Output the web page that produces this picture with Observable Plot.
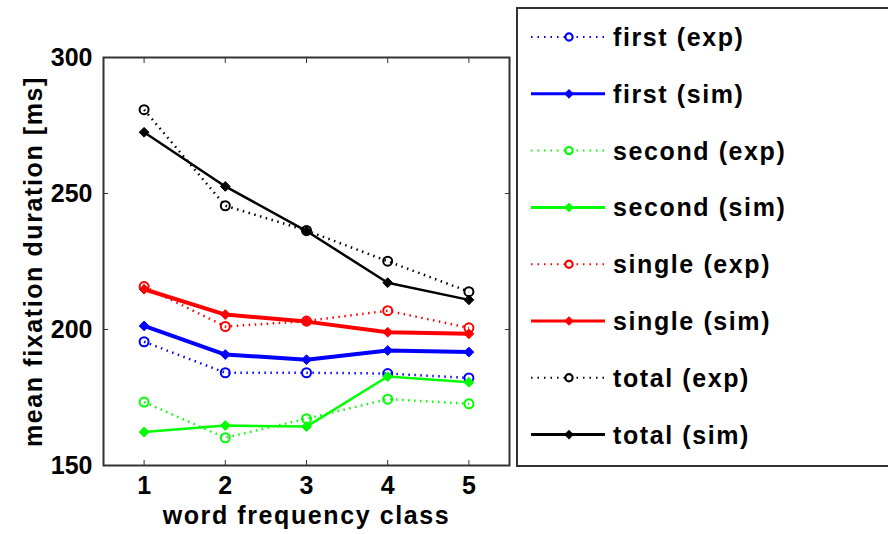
<!DOCTYPE html>
<html>
<head>
<meta charset="utf-8">
<script src="https://cdn.jsdelivr.net/npm/d3@7"></script>
<script src="https://cdn.jsdelivr.net/npm/@observablehq/plot@0.6"></script>
<style>
  html, body { margin: 0; padding: 0; background: #fff; overflow: hidden; }
  #wrap { position: relative; width: 888px; height: 534px; overflow: hidden; }
  #chart svg { display: block; }
  #legend { position: absolute; left: 0; top: 0; }
</style>
</head>
<body>
<div id="wrap">
  <div id="chart"></div>
  <svg id="legend" width="888" height="534"></svg>
</div>
<script>
// word frequency classes on the x axis
const classes = [1, 2, 3, 4, 5];
const yTicks = [150, 200, 250, 300];

// mean fixation durations [ms], experiment vs. simulation
const firstExp  = [195.5, 184.1, 184.1, 183.8, 182.2];
const firstSim  = [201.3, 190.8, 188.9, 192.3, 191.7];
const secondExp = [173.3, 160.2, 167.2, 174.4, 172.7];
const secondSim = [162.3, 164.7, 164.3, 182.7, 180.6];
const singleExp = [215.8, 201.1, 203.1, 206.9, 200.6];
const singleSim = [214.8, 205.5, 202.9, 199.0, 198.4];
const totalExp  = [280.8, 245.5, 236.4, 225.1, 213.9];
const totalSim  = [272.5, 252.6, 236.2, 217.2, 210.9];

const series = [
  {name: "first (exp)",  values: firstExp,  color: "#0000ff", kind: "exp", width: 2.5},
  {name: "first (sim)",  values: firstSim,  color: "#0000ff", kind: "sim", width: 4},
  {name: "second (exp)", values: secondExp, color: "#00ff00", kind: "exp", width: 2.5},
  {name: "second (sim)", values: secondSim, color: "#00ff00", kind: "sim", width: 2.5},
  {name: "single (exp)", values: singleExp, color: "#ff0000", kind: "exp", width: 2.5},
  {name: "single (sim)", values: singleSim, color: "#ff0000", kind: "sim", width: 4},
  {name: "total (exp)",  values: totalExp,  color: "#000000", kind: "exp", width: 2.5},
  {name: "total (sim)",  values: totalSim,  color: "#000000", kind: "sim", width: 2.5}
];

const font = "'Liberation Sans', Arial, Helvetica, sans-serif";
const dotted = "1.5,4.5";

const marks = [];
for (const s of series) {
  const rows = classes.map((c, i) => ({x: c, y: s.values[i]}));
  marks.push(Plot.line(rows, {
    x: "x", y: "y", stroke: s.color, strokeWidth: s.width,
    strokeDasharray: s.kind === "exp" ? dotted : null,
    strokeLinecap: "butt", strokeLinejoin: "round"
  }));
  marks.push(s.kind === "exp"
    ? Plot.dot(rows, {x: "x", y: "y", r: 4.5, stroke: s.color, strokeWidth: 2, fill: "none"})
    : Plot.dot(rows, {x: "x", y: "y", r: 4.4, symbol: "diamond2", fill: s.color, stroke: s.color, strokeWidth: 1}));
}

const axisText = {fontSize: 25, fontWeight: "bold"};

const chart = Plot.plot({
  width: 888,
  height: 534,
  marginLeft: 103,
  marginRight: 379,
  marginTop: 57,
  marginBottom: 69,
  style: {fontFamily: font, color: "#000", background: "transparent", overflow: "visible"},
  x: {domain: [0.5, 5.5]},
  y: {domain: [150, 300]},
  marks: [
    Plot.axisY({anchor: "left", ticks: yTicks, tickSize: -5, tickPadding: 16, tickFormat: d3.format("d"), ...axisText,
      label: "mean fixation duration [ms]", labelAnchor: "center", labelArrow: "none", labelOffset: 79, stroke: "#333"}),
    Plot.axisY({anchor: "right", ticks: yTicks, tickSize: -5, tickFormat: () => "", label: null, stroke: "#333"}),
    Plot.axisX({anchor: "bottom", ticks: classes, tickSize: -5, tickPadding: 16, tickFormat: d3.format("d"), ...axisText,
      label: "word frequency class", labelAnchor: "center", labelArrow: "none", labelOffset: 58, stroke: "#333"}),
    Plot.axisX({anchor: "top", ticks: classes, tickSize: -5, tickFormat: () => "", label: null, stroke: "#333"}),
    ...marks,
    Plot.frame({stroke: "#333", strokeWidth: 2})
  ]
});
document.getElementById("chart").append(chart);

// wider glyph spacing on the word labels
d3.select(chart).selectAll("[aria-label='y-axis label'] text, [aria-label='x-axis label'] text")
  .attr("letter-spacing", "1.6px");

// legend box to the right of the axes
const lg = d3.select("#legend");
lg.append("rect")
  .attr("x", 517).attr("y", 8).attr("width", 420).attr("height", 458)
  .attr("fill", "#fff").attr("stroke", "#333").attr("stroke-width", 2);

const row = lg.selectAll("g.entry").data(series).join("g")
  .attr("class", "entry")
  .attr("transform", (d, i) => `translate(0, ${37 + i * 56.8})`);

row.append("line")
  .attr("x1", 531).attr("x2", 605).attr("y1", 0).attr("y2", 0)
  .attr("stroke", d => d.color)
  .attr("stroke-width", d => d.kind === "exp" ? 2 : 3)
  .attr("stroke-dasharray", d => d.kind === "exp" ? "1.5,5" : null);

row.filter(d => d.kind === "exp").append("circle")
  .attr("cx", 569).attr("cy", 0).attr("r", 3.6)
  .attr("fill", "#fff").attr("stroke", d => d.color).attr("stroke-width", 2.2);

row.filter(d => d.kind === "sim").append("path")
  .attr("transform", "translate(569,0)")
  .attr("d", d3.symbol(d3.symbolDiamond2, 60)())
  .attr("fill", d => d.color);

row.append("text")
  .attr("x", 613).attr("y", 0).attr("dy", "0.36em")
  .attr("font-family", font).attr("font-size", 25).attr("font-weight", "bold")
  .attr("letter-spacing", "1.6px")
  .text(d => d.name);
</script>
</body>
</html>
